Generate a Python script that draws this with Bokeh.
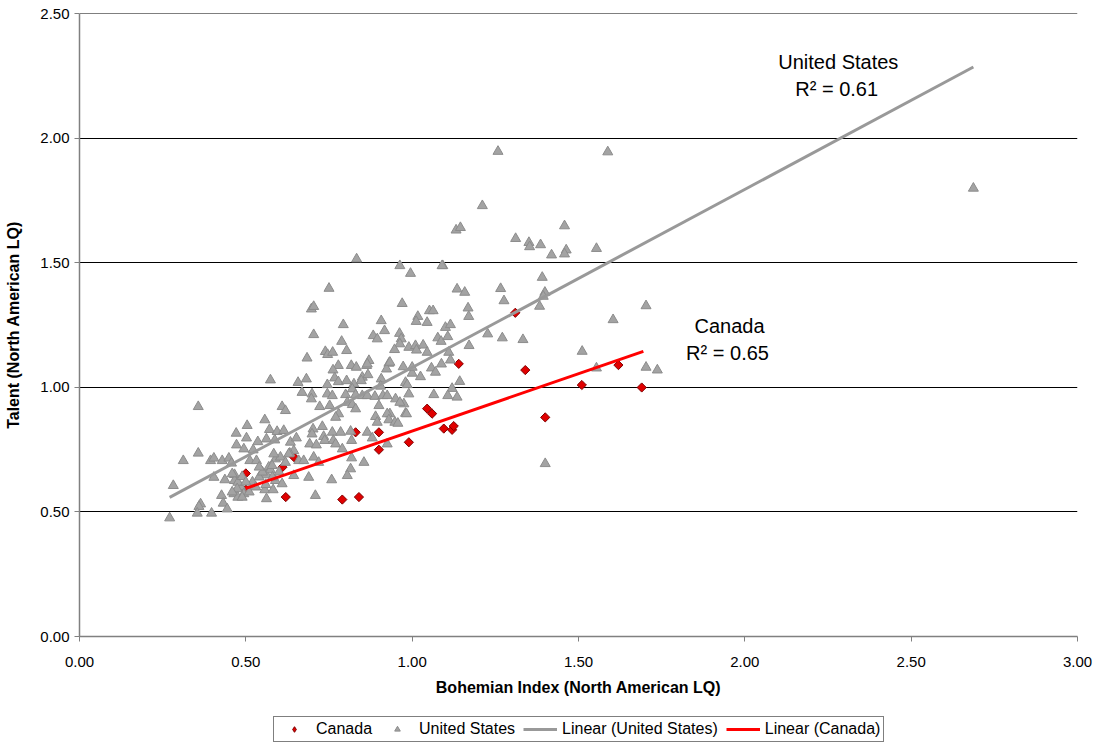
from bokeh.plotting import figure
from bokeh.layouts import column
from bokeh.models import Range1d, FixedTicker, NumeralTickFormatter, Legend, LegendItem, Label
from bokeh.embed import file_html
from bokeh.resources import INLINE

# ---------------- data ----------------
canada_x = [0.50, 0.50, 0.62, 0.61, 0.645, 0.79, 0.84, 0.83, 0.90, 0.90, 0.99, 1.045, 1.06,
            1.095, 1.12, 1.125, 1.14, 1.34, 1.40, 1.31, 1.51, 1.62, 1.69]
canada_y = [0.655, 0.59, 0.56, 0.68, 0.72, 0.55, 0.56, 0.82, 0.82, 0.75, 0.78, 0.915, 0.895,
            0.835, 0.83, 0.845, 1.095, 1.07, 0.88, 1.30, 1.01, 1.09, 1.00]

us_x = [
    2.687, 1.588, 1.258, 1.211, 1.132, 1.145, 1.458, 1.311, 1.351, 1.353, 1.386, 1.419, 1.463, 1.458,
    1.554, 1.092, 1.391, 1.399, 1.394, 1.276, 1.383, 1.703, 1.604, 1.271, 1.333, 1.511, 1.554, 1.703,
    1.737, 1.266, 1.227, 1.400,
    0.963, 1.090, 0.995, 1.135, 1.158, 0.970, 1.052, 1.063, 1.168, 1.170, 1.017, 1.012, 1.045, 0.907,
    0.917, 0.883, 0.895, 0.962, 0.967, 0.963, 0.990, 1.010, 1.013, 1.033, 0.947, 1.045, 1.077, 1.087,
    1.100, 1.115, 1.107, 1.110, 1.171, 1.115, 1.088, 1.058, 1.070, 1.025, 1.000, 1.000, 0.973, 0.930,
    0.923, 0.933, 0.870, 0.863, 0.850, 0.867, 0.907, 0.980, 0.985, 1.143, 1.120, 1.107, 1.135, 1.065,
    0.980, 0.933, 0.990, 0.975, 0.983,
    0.833, 0.750, 0.697, 0.704, 0.793, 0.704, 0.788, 0.803, 0.739, 0.746, 0.761, 0.684, 0.778, 0.762,
    0.817, 0.832, 0.865, 0.574, 0.657, 0.682, 0.767, 0.778, 0.803, 0.745, 0.825, 0.847, 0.905,
    0.669, 0.699, 0.697, 0.745, 0.760, 0.752, 0.722, 0.800, 0.820, 0.830, 0.850, 0.865, 0.888, 0.912,
    0.925, 0.950, 0.963, 0.805, 0.820, 0.830, 0.900, 0.779, 0.770, 0.890, 0.895, 0.925, 0.930, 0.948,
    0.957, 0.730, 0.702, 0.699, 0.760, 0.785, 0.815, 0.865, 0.734, 0.737, 0.763, 0.818, 0.880, 0.634,
    0.652, 0.692, 0.712, 0.770, 0.925, 0.790, 0.644, 0.632, 0.818, 0.855, 0.704, 0.659, 0.674, 0.719,
    0.815, 0.805, 0.644, 0.689, 0.758, 0.709,
    0.357, 0.609, 0.619, 0.557, 0.504, 0.471, 0.502, 0.536, 0.571, 0.594, 0.614, 0.562, 0.587, 0.472,
    0.494, 0.522, 0.357, 0.312, 0.394, 0.404, 0.429, 0.449, 0.457, 0.512, 0.532, 0.589, 0.569, 0.404,
    0.437, 0.466, 0.466, 0.282, 0.427, 0.464, 0.476, 0.484, 0.494, 0.364, 0.359, 0.432, 0.444, 0.397,
    0.354, 0.271, 0.562, 0.574, 0.589, 0.557, 0.582, 0.562, 0.609, 0.604, 0.619, 0.629, 0.579,
    0.459, 0.476, 0.489, 0.474, 0.489, 0.459, 0.584, 0.52, 0.54, 0.53, 0.55, 0.51, 0.60, 0.58, 0.54,
    0.50, 0.56,
]
us_y = [
    1.800, 1.946, 1.948, 1.730, 1.632, 1.642, 1.649, 1.598, 1.582, 1.565, 1.573, 1.532, 1.552, 1.536,
    1.558, 1.489, 1.442, 1.382, 1.366, 1.348, 1.326, 1.328, 1.272, 1.199, 1.192, 1.145, 1.078, 1.081,
    1.070, 1.397, 1.215, 0.694,
    1.489, 1.489, 1.458, 1.395, 1.382, 1.337, 1.308, 1.308, 1.319, 1.285, 1.285, 1.265, 1.261, 1.268,
    1.228, 1.208, 1.195, 1.217, 1.195, 1.175, 1.161, 1.168, 1.150, 1.170, 1.152, 1.141, 1.199, 1.185,
    1.241, 1.252, 1.204, 1.141, 1.168, 1.110, 1.094, 1.078, 1.061, 1.043, 1.057, 1.081, 1.083, 1.097,
    1.074, 1.101, 1.108, 1.088, 1.041, 1.051, 1.034, 1.020, 1.011, 1.024, 0.996, 0.967, 0.961, 0.971,
    0.896, 0.894, 0.974, 0.934, 0.894,
    1.516, 1.398, 1.315, 1.325, 1.252, 1.212, 1.185, 1.148, 1.144, 1.132, 1.141, 1.118, 1.088, 1.070,
    1.088, 1.081, 1.094, 1.030, 1.020, 1.034, 1.038, 1.023, 1.027, 1.011, 1.014, 1.027, 1.005,
    0.980, 0.974, 0.954, 0.974, 0.967, 0.927, 0.923, 0.971, 0.994, 0.970, 0.967, 0.967, 0.964, 0.967,
    0.967, 0.954, 0.940, 0.940, 0.931, 0.914, 0.927, 0.894, 0.880, 0.883, 0.860, 0.894, 0.870, 0.860,
    0.856, 0.843, 0.833, 0.813, 0.820, 0.820, 0.824, 0.820, 0.803, 0.787, 0.787, 0.787, 0.797, 0.780,
    0.797, 0.773, 0.769, 0.773, 0.773, 0.753, 0.746, 0.736, 0.717, 0.699, 0.720, 0.706, 0.706, 0.699,
    0.673, 0.646, 0.646, 0.639, 0.629, 0.566,
    0.923, 0.923, 0.907, 0.870, 0.847, 0.816, 0.797, 0.782, 0.831, 0.823, 0.827, 0.793, 0.789, 0.769,
    0.753, 0.749, 0.736, 0.706, 0.706, 0.716, 0.706, 0.716, 0.696, 0.706, 0.706, 0.713, 0.680, 0.639,
    0.629, 0.650, 0.626, 0.606, 0.566, 0.573, 0.559, 0.602, 0.573, 0.532, 0.522, 0.535, 0.512, 0.495,
    0.495, 0.476, 0.649, 0.669, 0.626, 0.589, 0.589, 0.553, 0.613, 0.720, 0.699, 0.733, 0.686,
    0.653, 0.619, 0.642, 0.593, 0.559, 0.580, 0.733, 0.62, 0.64, 0.60, 0.66, 0.58, 0.66, 0.64, 0.68,
    0.62, 0.61,
]

# linear trend lines as shown on the chart
us_trend_x = [0.271, 2.687]
us_trend_y = [0.559, 2.287]
ca_trend_x = [0.50, 1.695]
ca_trend_y = [0.595, 1.145]

x_ticks = [0.0, 0.5, 1.0, 1.5, 2.0, 2.5, 3.0]
y_ticks = [0.0, 0.5, 1.0, 1.5, 2.0, 2.5]

FONT = "Liberation Sans"

CA_STYLE = dict(fill_color="#E00000", line_color="#800000", line_width=1)
US_STYLE = dict(fill_color="#A3A3A3", line_color="#8C8C8C", line_width=1)
UST_STYLE = dict(line_color="#999999", line_width=3)
CAT_STYLE = dict(line_color="#FF0000", line_width=3)

p = figure(width=1095, height=704, x_range=Range1d(0, 3), y_range=Range1d(0, 2.502),
           output_backend="svg", toolbar_location=None,
           min_border_left=79, min_border_right=18, min_border_top=13, min_border_bottom=68)
p.outline_line_color = None
p.background_fill_color = "white"
p.border_fill_color = "white"

# grid
p.xgrid.grid_line_color = None
p.ygrid.grid_line_color = "black"
p.ygrid.grid_line_width = 1
p.ygrid.ticker = FixedTicker(ticks=y_ticks)

# axes
for ax in (p.xaxis[0], p.yaxis[0]):
    ax.axis_line_color = "#808080"
    ax.axis_line_width = 1.5
    ax.major_tick_line_color = "#808080"
    ax.major_tick_in = 0
    ax.major_tick_out = 5
    ax.minor_tick_line_color = None
    ax.major_label_text_font = FONT
    ax.major_label_text_font_size = "15px"
    ax.major_label_text_color = "black"
    ax.axis_label_text_font = FONT
    ax.axis_label_text_font_size = "16px"
    ax.axis_label_text_font_style = "bold"
    ax.axis_label_text_color = "black"
    ax.formatter = NumeralTickFormatter(format="0.00")

p.xaxis.ticker = FixedTicker(ticks=x_ticks)
p.yaxis.ticker = FixedTicker(ticks=y_ticks)
p.xaxis.axis_label = "Bohemian Index (North American LQ)"
p.yaxis.axis_label = "Talent (North American LQ)"
p.xaxis.major_label_standoff = 15
p.xaxis.axis_label_standoff = 9
p.yaxis.major_label_standoff = 5
p.yaxis.axis_label_standoff = 15

# series
p.scatter(canada_x, canada_y, marker="square", angle=0.785, size=6.5, **CA_STYLE)
p.scatter(us_x, us_y, marker="triangle", size=10, **US_STYLE)
p.line(us_trend_x, us_trend_y, **UST_STYLE)
p.line(ca_trend_x, ca_trend_y, **CAT_STYLE)

# annotations
for txt, x, y in [("United States", 2.281, 2.307), ("R\u00b2 = 0.61", 2.276, 2.199),
                  ("Canada", 1.954, 1.248), ("R\u00b2 = 0.65", 1.948, 1.140)]:
    p.add_layout(Label(x=x, y=y, text=txt, text_font=FONT, text_font_size="20px",
                       text_align="center", text_baseline="middle", text_color="black"))

# legend strip below the chart (legend glyph proxies sit outside the strip's visible range)
q = figure(width=1095, height=40, x_range=Range1d(0, 1), y_range=Range1d(0, 1),
           x_axis_type=None, y_axis_type=None, output_backend="svg", toolbar_location=None,
           min_border=0)
q.outline_line_color = None
q.xgrid.visible = False
q.ygrid.visible = False
off_x = [-5.0, -4.0]
off_y = [-5.0, -4.0]
l_ca = q.scatter(off_x, off_y, marker="diamond", size=11, **CA_STYLE)
l_us = q.scatter(off_x, off_y, marker="triangle", size=10, **US_STYLE)
l_ust = q.line(off_x, off_y, **UST_STYLE)
l_cat = q.line(off_x, off_y, **CAT_STYLE)

legend = Legend(items=[
    LegendItem(label="Canada", renderers=[l_ca]),
    LegendItem(label="United States", renderers=[l_us]),
    LegendItem(label="Linear (United States)", renderers=[l_ust]),
    LegendItem(label="Linear (Canada)", renderers=[l_cat]),
], orientation="horizontal", location=(194, 2))
legend.label_text_font = FONT
legend.label_text_font_size = "16px"
legend.label_text_color = "black"
legend.glyph_width = 34
legend.glyph_height = 14
legend.label_height = 16
legend.label_standoff = 5
legend.spacing = 8
legend.padding = 3
legend.margin = 0
legend.border_line_color = "black"
legend.border_line_width = 1
legend.background_fill_color = "white"
legend.background_fill_alpha = 1
q.add_layout(legend, "center")

layout = column(p, q, spacing=0)
open("out.html", "w").write(file_html(layout, INLINE))
